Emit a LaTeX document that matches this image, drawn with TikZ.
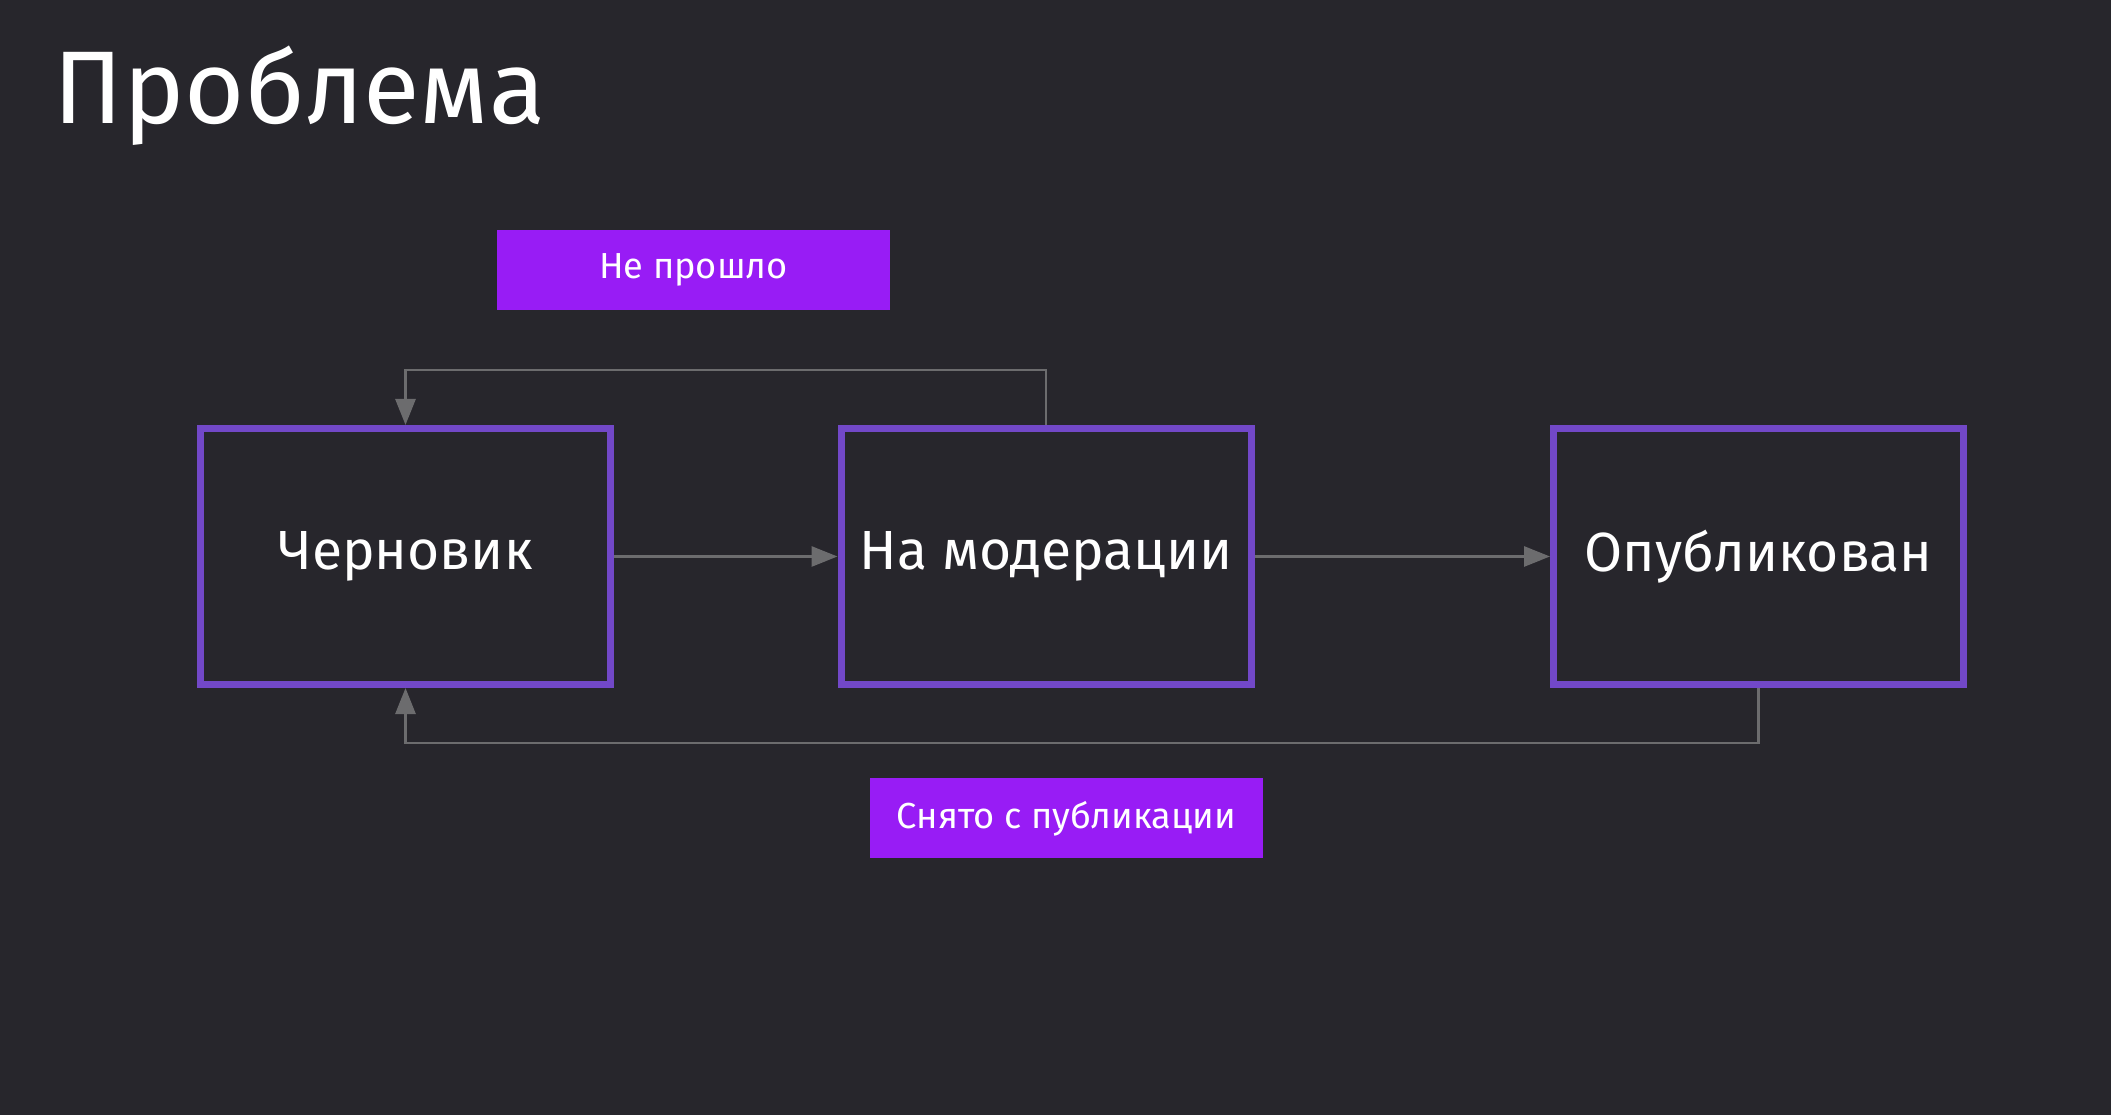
\documentclass[tikz,border=0pt]{standalone}
\usepackage{fontspec}
\setmainfont{Fira Sans}
\usetikzlibrary{arrows.meta}

\definecolor{bgcol}{RGB}{39,38,44}
\definecolor{boxline}{RGB}{114,72,200}
\definecolor{tagfill}{RGB}{152,28,245}
\definecolor{linkgray}{RGB}{108,108,110}

\begin{document}
\begin{tikzpicture}[
		state/.style={draw=boxline, line width=2pt, fill=bgcol, text=white,
			minimum width=4.1cm, minimum height=2.56cm, inner sep=0pt,
			font=\fontsize{15.7}{18}\selectfont},
		tag/.style={fill=tagfill, text=white, minimum width=3.93cm,
			minimum height=0.8cm, inner sep=0pt, font=\fontsize{10.3}{12}\selectfont},
		link/.style={draw=linkgray, line width=0.8pt,
			-{Triangle[length=2.6mm,width=2mm]}}
	]
	% background
	\fill[bgcol] (0,0) rectangle (21.11,11.15);
	\node[anchor=base west, text=white, inner sep=0pt,
		font=\fontsize{29.4}{35}\selectfont] (title) at (0.53,9.91) {Проблема};

	% states
	\node[state] (draft) at (4.055,5.585) {Черновик};
	\node[state] (moder) at (10.46,5.585) {На модерации};
	\node[state] (pub) at (17.585,5.585) {Опубликован};

	% labels
	\node[tag] (rejected) at (6.935,8.45) {Не прошло};
	\node[tag] (unpublished) at (10.665,2.965) {Снято с публикации};

	% transitions
	\draw[link] (draft) -- (moder);
	\draw[link] (moder) -- (pub);
	\draw[link] (moder.north) -- ++(0,0.55) -| (draft.north);
	\draw[link] (pub.south) -- ++(0,-0.55) -| (draft.south);
\end{tikzpicture}
\end{document}
